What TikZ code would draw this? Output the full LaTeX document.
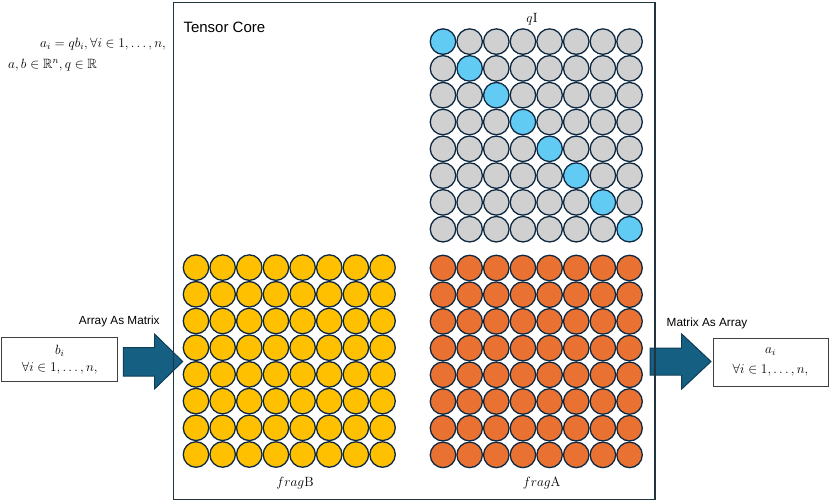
\RequirePackage{fix-cm}
\documentclass[tikz,border=0pt]{standalone}
\usepackage{amssymb}
\usepackage{fontspec}
\newfontfamily\labelfont{Liberation Sans}
\definecolor{cyel}{HTML}{FFC000}
\definecolor{corg}{HTML}{E97132}
\definecolor{cgray}{HTML}{D0D0D0}
\definecolor{cblue}{HTML}{61CBF3}
\definecolor{cline}{HTML}{0E2841}
\definecolor{carrow}{HTML}{156082}
\definecolor{carrowline}{HTML}{0E3E56}
\definecolor{cframe}{HTML}{24343F}
\begin{document}
\begin{tikzpicture}[x=1pt,y=-1pt,
  dot/.style={circle, draw=cline, line width=1.3pt, minimum size=25.5pt, inner sep=0pt},
  corebox/.style={draw=cframe, line width=1.5pt, rectangle, inner sep=0pt},
  valbox/.style={draw=black!75, line width=0.8pt, rectangle, inner sep=0pt, align=center, font=\fontsize{13.4}{17}\selectfont},
  blockarrow/.style={fill=carrow, draw=carrowline, line width=1pt, line join=miter},
  sanslabel/.style={font=\labelfont\fontsize{11.8}{13}\selectfont, inner sep=0pt},
  mathlabel/.style={font=\fontsize{13.4}{17}\selectfont, inner sep=0pt}
]
\useasboundingbox (0,0) rectangle (830,501);

% block arrows
\draw[blockarrow] (123.3,347.5) -- (154.5,347.5) -- (154.5,334) -- (182.7,361.5) -- (154.5,389) -- (154.5,376) -- (123.3,376) -- cycle;
\draw[blockarrow] (650,348) -- (681.7,348) -- (681.7,334) -- (711,361.5) -- (681.7,389) -- (681.7,375) -- (650,375) -- cycle;

% tensor core frame
\node[corebox, minimum width=481.8pt, minimum height=497pt, anchor=north west] (core) at (172.5,1.5) {};
\node[anchor=west, inner sep=0pt, font=\labelfont\fontsize{15}{18}\selectfont] (title) at (183.3,27.7) {Tensor Core};

% qI grid
\foreach \r in {0,...,7} {
  \foreach \c in {0,...,7} {
    \def\qcol{cgray}\ifnum\r=\c\def\qcol{cblue}\fi
    \node[dot, fill=\qcol] (q-\r-\c) at (443+26.65*\c, 41.6+26.8*\r) {};
  }
}
% fragB grid
\foreach \r in {0,...,7} {
  \foreach \c in {0,...,7} {
    \node[dot, fill=cyel] (b-\r-\c) at (196+26.65*\c, 267.6+26.7*\r) {};
  }
}
% fragA grid
\foreach \r in {0,...,7} {
  \foreach \c in {0,...,7} {
    \node[dot, fill=corg] (a-\r-\c) at (443+26.65*\c, 268+26.7*\r) {};
  }
}

% grid labels
\node[mathlabel, anchor=base] (qlab) at (532,22.7) {$q\mathrm{I}$};
\node[mathlabel, anchor=base] (blab) at (295,486.5) {$frag\mathrm{B}$};
\node[mathlabel, anchor=base] (alab) at (541.7,486.5) {$frag\mathrm{A}$};

% formula
\node[mathlabel, anchor=base west] (f1) at (40,47) {$a_i = qb_i, \forall i \in 1, \dots, n,$};
\node[mathlabel, anchor=base west] (f2) at (8,68.5) {$a, b \in \mathbb{R}^n, q \in \mathbb{R}$};

% value boxes
\node[valbox, minimum width=116pt, minimum height=43.7pt] (bbox) at (59.7,359.2) {$b_i$\\$\forall i \in 1, \dots, n,$};
\node[valbox, minimum width=115pt, minimum height=48pt, font=\fontsize{13.4}{20}\selectfont] (abox) at (770.5,362) {$a_i$\\$\forall i \in 1, \dots, n,$};

% arrow labels
\node[sanslabel] (l1) at (119.3,321) {Array As Matrix};
\node[sanslabel] (l2) at (707,323.3) {Matrix As Array};
\end{tikzpicture}
\end{document}
